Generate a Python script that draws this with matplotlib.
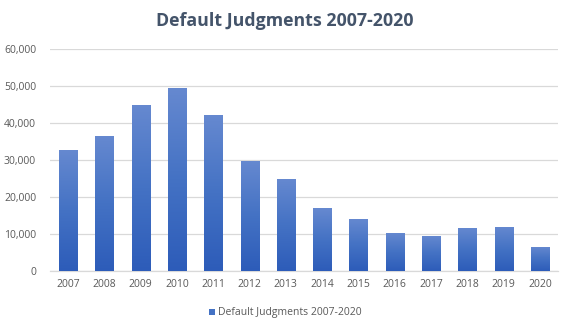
import numpy as np
import matplotlib
matplotlib.use("Agg")
import matplotlib.pyplot as plt
from matplotlib.colors import LinearSegmentedColormap
from matplotlib.patches import Patch
from matplotlib.ticker import FuncFormatter

years = ["2007", "2008", "2009", "2010", "2011", "2012", "2013",
         "2014", "2015", "2016", "2017", "2018", "2019", "2020"]
judgments = [32800, 36500, 44900, 49500, 42200, 29800, 24900,
             16900, 14150, 10400, 9550, 11700, 12000, 6600]
series_name = "Default Judgments 2007-2020"

plt.rcParams["font.family"] = ["Open Sans", "DejaVu Sans"]

fig = plt.figure(figsize=(5.7, 3.3), dpi=100)
ax = fig.add_axes([50 / 570, 1 - 271 / 330, 508 / 570, 222 / 330])

x = np.arange(len(years))
bars = ax.bar(x, judgments, width=0.5, color="#4472c4", zorder=2)

# vertical gradient inside each bar (lighter at top, darker at bottom)
grad_cmap = LinearSegmentedColormap.from_list(
    "bar_grad", ["#2d5cb9", "#4472c4", "#6689d0"])
grad = np.linspace(0, 1, 256).reshape(-1, 1)
for b in bars:
    x0, y0 = b.get_x(), b.get_y()
    w, h = b.get_width(), b.get_height()
    im = ax.imshow(grad, cmap=grad_cmap, origin="lower", aspect="auto",
                   extent=(x0, x0 + w, y0, y0 + h), zorder=3)
    im.set_clip_path(b)

ax.set_xlim(-0.5, len(years) - 0.5)
ax.set_ylim(0, 60000)
ax.set_yticks(np.arange(0, 60001, 10000))
ax.yaxis.set_major_formatter(FuncFormatter(lambda v, p: f"{int(v):,}"))
ax.set_xticks(x)
ax.set_xticklabels(years)

ax.grid(axis="y", color="#d9d9d9", linewidth=0.9, zorder=0)
ax.set_axisbelow(True)
for s in ["top", "right", "left"]:
    ax.spines[s].set_visible(False)
ax.spines["bottom"].set_color("#d9d9d9")
ax.spines["bottom"].set_linewidth(0.9)
ax.tick_params(axis="both", length=0, labelsize=7.5, colors="#595959")
ax.tick_params(axis="y", pad=10)
ax.tick_params(axis="x", pad=6)

fig.text(0.5, 1 - 21 / 330, series_name, ha="center", va="center",
         fontsize=12.8, fontweight="bold", color="#44546a")

fig.legend(handles=[Patch(facecolor="#4472c4", label=series_name)],
           loc="center", bbox_to_anchor=(0.5, 1 - 313 / 330), frameon=False,
           fontsize=7.5, handlelength=0.6, handleheight=0.6,
           handletextpad=0.3, labelcolor="#595959")

fig.savefig("out.png", dpi=100, facecolor="white")
